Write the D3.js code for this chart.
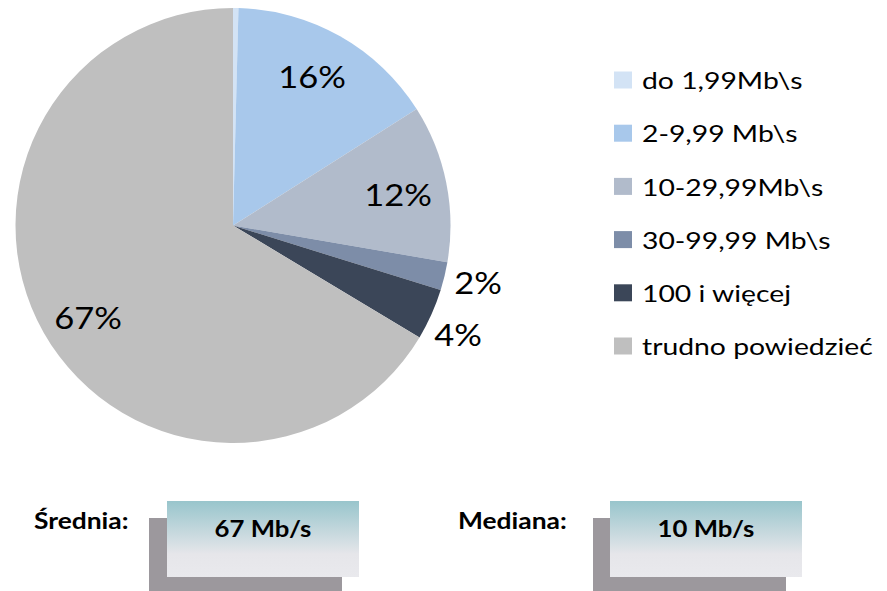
<!DOCTYPE html>
<html><head><meta charset="utf-8">
<script src="https://cdn.jsdelivr.net/npm/d3@7"></script>
<style>body{margin:0;background:#fff}svg{display:block}</style>
</head><body>
<script>
const categories = ["do 1,99Mb\\s","2-9,99 Mb\\s","10-29,99Mb\\s","30-99,99 Mb\\s","100 i więcej","trudno powiedzieć"];
const values = [0.4, 15.6, 11.7, 2.1, 3.8, 66.4];
const valueLabels = ["", "16%", "12%", "2%", "4%", "67%"];
const colors = ["#d3e3f5","#a8c8eb","#b1bbcb","#7d8da8","#3b4658","#bfbfbf"];
const statLabels = ["Średnia:", "Mediana:"];
const statValues = ["67 Mb/s", "10 Mb/s"];

const W = 887, H = 591;
const svg = d3.select("body").append("svg").attr("width", W).attr("height", H);
const defs = svg.append("defs");
const grad = defs.append("linearGradient").attr("id","bg").attr("x1",0).attr("y1",0).attr("x2",0).attr("y2",1);
grad.append("stop").attr("offset","0%").attr("stop-color","#98c5cc");
grad.append("stop").attr("offset","70%").attr("stop-color","#e6e6ea");
grad.append("stop").attr("offset","100%").attr("stop-color","#e9e9ed");

const font = "Lato, 'Open Sans', sans-serif";
function txt(parent, x, y, s, size, opts = {}) {
  return parent.append("text")
    .attr("transform", `translate(${x},${y}) scale(${opts.sx || 1.17},1)`)
    .attr("text-anchor", opts.anchor || "start")
    .attr("dominant-baseline", "central")
    .attr("font-family", font)
    .attr("font-weight", opts.bold ? "bold" : "normal")
    .attr("font-size", size).attr("fill", "#000").text(s);
}

const cx = 233, cy = 225.5, r = 217.5;
const pie = d3.pie().sort(null).value(d => d)(values);
const arc = d3.arc().innerRadius(0).outerRadius(r);
const g = svg.append("g").attr("transform", `translate(${cx},${cy})`);
g.selectAll("path").data(pie).join("path")
  .attr("d", arc).attr("fill", (d,i) => colors[i]);

const labelPos = [null, [79, -149], [165, -31], [245, 57], [225, 109], [-145, 92]];
pie.forEach((d,i) => {
  if (valueLabels[i]) txt(g, labelPos[i][0], labelPos[i][1], valueLabels[i], 30, {anchor:"middle", sx:1.15});
});

// legend
const ly = d3.scalePoint().domain(categories).range([80, 346]);
const lg = svg.append("g");
categories.forEach((c,i) => {
  lg.append("rect").attr("x",614).attr("y",ly(c)-8.5).attr("width",18).attr("height",17).attr("fill",colors[i]);
  txt(lg, 642, ly(c), c, 24, {sx:1.18});
});

// stat boxes
const boxes = [
  {label: statLabels[0], value: statValues[0], lx: 34, sx: 149, fx: 167, fw: 192},
  {label: statLabels[1], value: statValues[1], lx: 458, sx: 593, fx: 610, fw: 192}
];
boxes.forEach(b => {
  txt(svg, b.lx, 520, b.label, 22, {bold:true, sx:1.2});
  svg.append("rect").attr("x", b.sx).attr("y", 518).attr("width", 193).attr("height", 80).attr("fill","#9c989d");
  svg.append("rect").attr("x", b.fx).attr("y", 501).attr("width", b.fw).attr("height", 76).attr("fill","url(#bg)");
  txt(svg, b.fx + b.fw/2, 528, b.value, 22, {bold:true, anchor:"middle", sx:1.17});
});
</script>
</body></html>
